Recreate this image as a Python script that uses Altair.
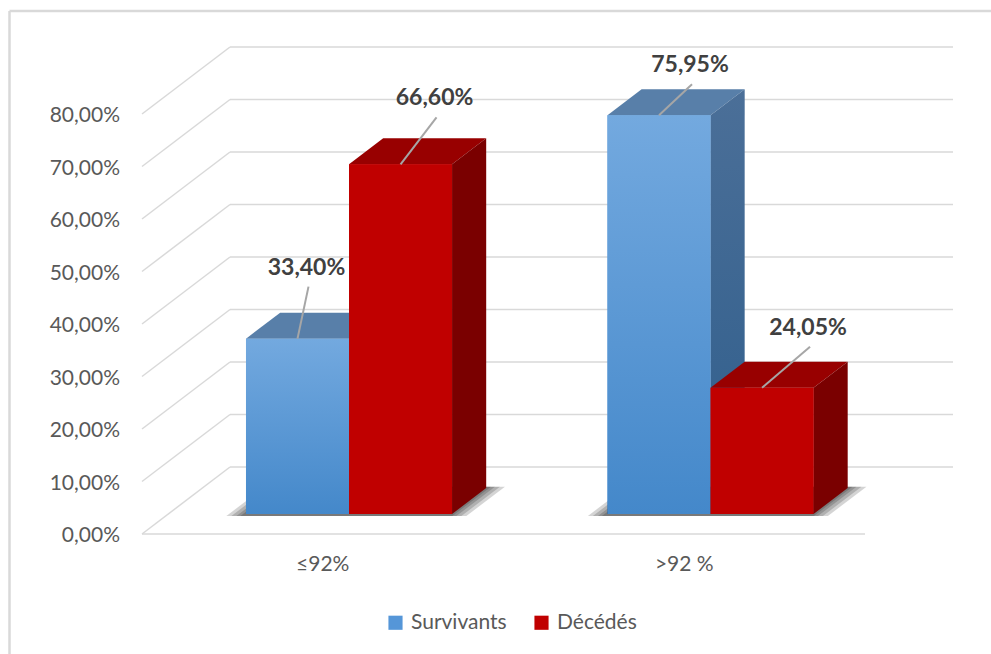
import altair as alt
import pandas as pd

# ---------------- data ----------------
categories = ["≤92%", ">92 %"]
series = ["Survivants", "Décédés"]
survivants = [33.40, 75.95]
decedes = [66.60, 24.05]
y_ticks = [0, 10, 20, 30, 40, 50, 60, 70, 80]

# ---------------- layout / style ----------------
W, H = 991, 654
X0_PX = 142       # front-left corner of the floor (px)
UNIT_PX = 361.5   # width of one category band at the front plane (px)
ZERO_PX = 534     # y pixel of 0 % at the front plane
PCT_PX = 5.25     # pixels per percent
DX = 88 / UNIT_PX     # depth offset (x, in category units)
DY = 67 / PCT_PX      # depth offset (y, in percent units)
D0, D1 = 0.2985, 0.6866   # bar front / back depth (fraction)
BAR_W = 0.285
FONT = "Lato"
TXT = "#595959"
GRID = "#d9d9d9"

# label offsets (px) relative to the bar's top-front centre
LABEL_OFF = [(9, -71), (34, -66), (31, -50), (46, -60)]

BLUE_FRONT = alt.LinearGradient(gradient="linear", x1=0, y1=0, x2=0, y2=1,
                                stops=[alt.GradientStop(color="#73a9df", offset=0),
                                       alt.GradientStop(color="#4488ca", offset=1)])
BLUE_SIDE = alt.LinearGradient(gradient="linear", x1=0, y1=0, x2=0, y2=1,
                               stops=[alt.GradientStop(color="#4b6f98", offset=0),
                                      alt.GradientStop(color="#2f5e8c", offset=1)])
BLUE_TOP = "#587fa9"
RED_FRONT, RED_TOP, RED_SIDE = "#c00000", "#980000", "#7a0000"
FACES = [
    {"front": BLUE_FRONT, "top": BLUE_TOP, "side": BLUE_SIDE},
    {"front": RED_FRONT, "top": RED_TOP, "side": RED_SIDE},
]

xs = alt.Scale(domain=[-X0_PX / UNIT_PX, (W - X0_PX) / UNIT_PX], range=[0, W], nice=False, zero=False)
ys = alt.Scale(domain=[(ZERO_PX - H) / PCT_PX, ZERO_PX / PCT_PX], range=[H, 0], nice=False, zero=False)


def X(f="x"):
    return alt.X(f"{f}:Q", scale=xs, axis=None)


def Y(f="y"):
    return alt.Y(f"{f}:Q", scale=ys, axis=None)


def fmt(v):
    return f"{v:.2f}".replace(".", ",") + "%"


# ---------------- tables ----------------
grid_rows = []
for v in y_ticks:
    grid_rows.append({"x": DX, "x2": 2 + DX, "y": v + DY, "y2": v + DY})
    grid_rows.append({"x": 0, "x2": DX, "y": v, "y2": v + DY})
grid_rows.append({"x": 0, "x2": 2, "y": 0, "y2": 0})
grid_df = pd.DataFrame(grid_rows)

tick_df = pd.DataFrame({"y": y_ticks, "label": [fmt(v) for v in y_ticks], "x": [0] * len(y_ticks)})
cat_df = pd.DataFrame({"x": [c + 0.5 for c in range(len(categories))], "y": [0] * len(categories),
                       "label": categories})

face_rows, legend_rows, label_rows, leader_rows = [], [], [], []
values = [survivants, decedes]
for c in range(len(categories)):
    for s in range(len(series)):
        v = values[s][c]
        bid = c * 2 + s
        x0 = c + 0.5 - BAR_W + s * BAR_W
        x1 = x0 + BAR_W
        face_rows.append({"bar": bid, "face": "front", "x": x0 + D0 * DX, "x2": x1 + D0 * DX,
                          "y": D0 * DY, "y2": v + D0 * DY})
        legend_rows.append({"series": series[s], "x": x0 + D0 * DX, "x2": x1 + D0 * DX,
                            "y": D0 * DY, "y2": v + D0 * DY})
        for d in (D0, D1):
            face_rows.append({"bar": bid, "face": "top", "x": x0 + d * DX, "x2": x1 + d * DX,
                              "y": v + d * DY, "y2": v + d * DY})
            face_rows.append({"bar": bid, "face": "side", "x": x1 + d * DX, "x2": x1 + d * DX,
                              "y": d * DY, "y2": v + d * DY})
        cx = (x0 + x1) / 2 + D0 * DX
        top = v + D0 * DY
        ox, oy = LABEL_OFF[bid]
        lx, ly = cx + ox / UNIT_PX, top - oy / PCT_PX
        label_rows.append({"x": lx, "y": ly, "label": fmt(v)})
        leader_rows.append({"x": cx, "y": top, "x2": lx + 2 / UNIT_PX, "y2": ly - 19 / PCT_PX})
face_df = pd.DataFrame(face_rows)
legend_df = pd.DataFrame(legend_rows)
label_df = pd.DataFrame(label_rows)
leader_df = pd.DataFrame(leader_rows)

shadow_rows = []
for c in range(len(categories)):
    gl, gr = c + 0.5 - BAR_W, c + 0.5 + BAR_W
    for k, e in enumerate([3, 7, 12, 17]):
        for d in (D0 - 0.03, D1 + 0.02):
            shadow_rows.append({"g": f"{c}-{k}", "k": k, "y": d * DY,
                                "x": gl + d * DX - e / UNIT_PX, "x2": gr + d * DX + e / UNIT_PX})
shadow_df = pd.DataFrame(shadow_rows)

# ---------------- layers ----------------
frame = alt.layer(
    alt.Chart(pd.DataFrame({"a": [0]})).mark_rule(color=GRID, strokeWidth=2.5).encode(
        x=alt.value(9.5), y=alt.value(11), y2=alt.value(H)),
    alt.Chart(pd.DataFrame({"a": [0]})).mark_rule(color=GRID, strokeWidth=2.5).encode(
        x=alt.value(9.5), x2=alt.value(W), y=alt.value(11)),
)

grid = alt.Chart(grid_df).mark_rule(color=GRID, strokeWidth=1.5).encode(
    x=X(), x2="x2", y=Y(), y2="y2")

ticks = alt.Chart(tick_df).mark_text(align="right", baseline="middle", dx=-22, dy=2,
                                     font=FONT, fontSize=21, color=TXT).encode(
    x=X(), y=Y(), text="label:N")

cats = alt.Chart(cat_df).mark_text(align="center", baseline="middle", dy=31,
                                   font=FONT, fontSize=21, color=TXT).encode(
    x=X(), y=Y(), text="label:N")

legend_layer = alt.Chart(legend_df).mark_rect().encode(
    x=X(), x2="x2", y=Y(), y2="y2",
    color=alt.Color("series:N",
                    scale=alt.Scale(domain=series, range=["#5596d8", "#c00000"]),
                    legend=alt.Legend(orient="none", legendX=385, legendY=612, direction="horizontal",
                                      title=None, symbolType="square", symbolSize=200,
                                      symbolStrokeWidth=0, labelFont=FONT, labelFontSize=21,
                                      labelColor=TXT, columnPadding=24, labelOffset=5)))

shadows = alt.Chart(shadow_df).mark_area(orient="horizontal", color="#000000", opacity=0.17).encode(
    y=Y(), x=X(), x2="x2", detail="g:N")

bar_layers = []
for bid in range(len(categories) * len(series)):
    s = bid % 2
    base = alt.Chart(face_df)
    bar_layers.append(base.transform_filter(
        (alt.datum.bar == bid) & (alt.datum.face == "top")).mark_area(
        orient="horizontal", color=FACES[s]["top"]).encode(y=Y(), x=X(), x2="x2"))
    bar_layers.append(base.transform_filter(
        (alt.datum.bar == bid) & (alt.datum.face == "side")).mark_area(
        orient="vertical", color=FACES[s]["side"]).encode(x=X(), y=Y(), y2="y2"))
    bar_layers.append(base.transform_filter(
        (alt.datum.bar == bid) & (alt.datum.face == "front")).mark_rect(
        color=FACES[s]["front"]).encode(x=X(), x2="x2", y=Y(), y2="y2"))

leaders = alt.Chart(leader_df).mark_rule(color="#a6a6a6", strokeWidth=2).encode(
    x=X(), x2="x2", y=Y(), y2="y2")

labels = alt.Chart(label_df).mark_text(align="center", baseline="middle", font=FONT,
                                       fontSize=23, fontWeight="bold", color="#404040").encode(
    x=X(), y=Y(), text="label:N")

chart = alt.layer(frame, grid, ticks, cats, legend_layer, shadows, *bar_layers, leaders, labels).properties(
    width=W, height=H, autosize=alt.AutoSizeParams(type="none"), padding=0,
    background="white"
).configure_view(stroke=None)

chart.save("out.html", embed_options={"renderer": "svg", "actions": False})
